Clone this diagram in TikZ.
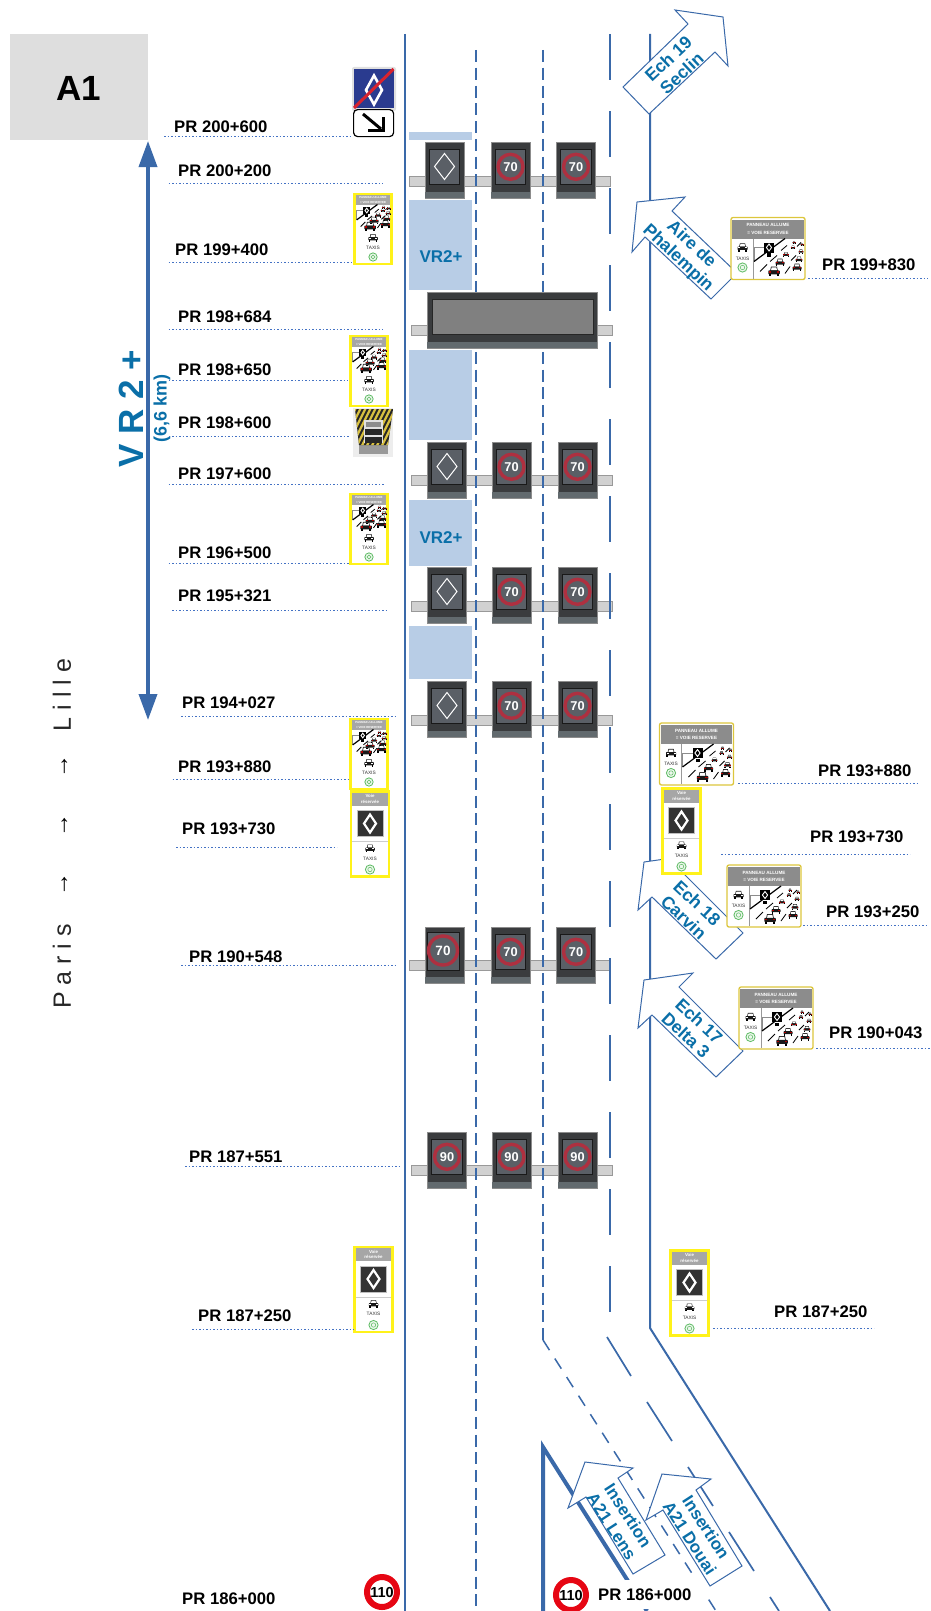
\documentclass[tikz,border=0pt]{standalone}
\usepackage{fontspec}
\setmainfont{Liberation Sans}
\usetikzlibrary{arrows.meta}
\definecolor{roadblue}{HTML}{3A69A9}
\definecolor{textblue}{HTML}{0A6FA8}
\definecolor{laneblue}{HTML}{B8CDE6}
\definecolor{leaderblue}{HTML}{4472C4}
\definecolor{paneldark}{HTML}{3A3C3E}
\definecolor{panelscreen}{HTML}{5A5F66}
\definecolor{panelstripe}{HTML}{626A6E}
\definecolor{ringred}{HTML}{AE3040}
\definecolor{signyellow}{HTML}{FFF21A}
\definecolor{signgold}{HTML}{DCC63C}
\definecolor{headgrey}{HTML}{8C8C8C}
\definecolor{headlight}{HTML}{A6A6A6}
\definecolor{ecogreen}{HTML}{5DBB63}
\definecolor{endblue}{HTML}{2A3B8F}
\definecolor{endred}{HTML}{D8232F}
\definecolor{hazard}{HTML}{D8C040}
\newcommand\fsz[2]{\fontsize{#1}{#2}\selectfont}
\newcommand\panelbase{%
  \draw[draw=black!45,fill=paneldark,line width=.7pt] (0,0) rectangle (39,56);
  \fill[panelstripe] (0.4,50) rectangle (38.6,55.6);}
\newcommand\PRmark[7]{%
  \node[prlabel] (#1) at (#2,#3) {#4};
  \coordinate (#1a) at (#5,#7);
  \coordinate (#1b) at (#6,#7);
  \draw[leader] (#1a) -- (#1b);}
\newcommand\gantrybar[3]{%
  \node[barbox,minimum width=201pt,minimum height=10pt,anchor=north west] (#1) at (#2,#3) {};}
\tikzset{
  roadline/.style={draw=roadblue,line width=2.2pt},
  lanedash/.style={draw=roadblue,line width=2pt,dash pattern=on 12pt off 5.75pt},
  longdash/.style={draw=roadblue,line width=2pt,dash pattern=on 46pt off 31pt},
  leader/.style={draw=leaderblue,line width=.9pt,dash pattern=on 1.6pt off 1.9pt},
  prlabel/.style={anchor=west,inner sep=0pt,text=black,font=\fsz{16.7}{19}\bfseries},
  barbox/.style={draw=black!40,fill=black!18,line width=1.3pt,inner sep=0pt},
  lanezone/.style={fill=laneblue},
  arrowbox/.style={draw=roadblue,fill=white,line width=1pt,line join=miter},
  arrowtext/.style={text=textblue,align=center,inner sep=0pt,font=\fsz{17.6}{19.5}\bfseries},
  zonetext/.style={text=textblue,inner sep=0pt,font=\fsz{17}{19}\bfseries},
  tiny/.style={inner sep=0pt,text=white,font=\fsz{#1}{#1}\bfseries},
  taxitext/.style={inner sep=0pt,text=black!80,font=\fsz{4.8}{5}},
  limit/.style={circle,draw={rgb:red,227;green,6;blue,19},fill=white,line width=6pt,minimum size=30pt,inner sep=0pt,text=black,font=\fsz{14.5}{15}\bfseries},
  pics/speed/.style={code={
    \panelbase
    \draw[draw=black!90,fill=panelscreen,line width=.9pt] (4,7) rectangle (34.5,42);
    \draw[ringred,line width=3.4pt] (19.5,24.8) circle (12.5pt);
    \node[tiny=12.8] (val) at (19.5,24.8) {#1};}},
  pics/speedbig/.style={code={
    \panelbase
    \draw[draw=black!90,fill=panelscreen,line width=.9pt] (2,5) rectangle (34,43);
    \draw[ringred,line width=3.4pt] (18,23.5) circle (14.5pt);
    \node[tiny=13.5] (val) at (18,23.5) {#1};}},
  pics/lozenge/.style={code={
    \panelbase
    \draw[draw=black!90,fill=panelscreen,line width=.9pt] (4,7) rectangle (34.5,42);
    \draw[white,line width=1pt] (19.5,11.5)--(29.5,24.5)--(19.5,37.5)--(9.5,24.5)--cycle;}},
  pics/car/.style={code={
    \fill[black!90] (-3.5,0)--(-2.6,-4.2)--(2.6,-4.2)--(3.5,0)--cycle;
    \fill[white] (-2.6,-.9)--(-2.1,-3.5)--(2.1,-3.5)--(2.6,-.9)--cycle;
    \fill[black!90,rounded corners=.6pt] (-5,-.9) rectangle (5,2.4);
    \fill[#1] (-4.5,-.3) rectangle (-2.5,.9);
    \fill[#1] (2.5,-.3) rectangle (4.5,.9);
    \fill[black] (-4.6,2.2) rectangle (-2.8,4);
    \fill[black] (2.8,2.2) rectangle (4.6,4);}},
  pics/roadpic/.style={code={
    \draw[black!45,line width=.5pt] (1,23)--(1,9)--(11,9);
    \draw[black,line width=1.2pt] (1,23)--(32,0);
    \foreach \ax/\ay/\bx/\by in {7/33/14/26,32/35/37/28,17/23/24/17,38/22/43/17,28/12/34/7,44/8/48/4}
      \draw[black,line width=.8pt] (\ax,\ay)--(\bx,\by);
    \fill[black] (11,4) rectangle (21,14);
    \draw[white,line width=.9pt] (16,5.5)--(18.6,9)--(16,12.5)--(13.4,9)--cycle;
    \fill[black] (14,14.5) rectangle (18,18);
    \pic[scale=1.15] at (21,33) {car={red!70!black}};
    \pic[scale=.9] at (44,29) {car={red!70!black}};
    \pic[scale=.9] at (27,24) {car={red!70!black}};
    \pic[scale=.68] at (46,21) {car={red!70!black}};
    \pic[scale=.58] at (33,16) {car={red!70!black}};
    \pic[scale=.5] at (48,13) {car={red!70!black}};
    \pic[scale=.42] at (40,9) {car={red!70!black}};
    \pic[scale=.32] at (49,6) {car={red!70!black}};
    \pic[scale=.32] at (41,4) {car={red!70!black}};}},
  pics/ecodisc/.style={code={
    \draw[ecogreen,fill=ecogreen!12,line width=.8pt] (0,0) circle (4.6pt);
    \draw[ecogreen,line width=.5pt] (0,0) circle (2.2pt);}},
  pics/tallpanel/.style={code={
    \draw[signyellow,fill=white,line width=2.4pt] (0,0) rectangle (37,70);
    \fill[headlight] (1.2,1.2) rectangle (35.8,10.5);
    \node[tiny=2.9] (ha) at (18.5,4) {PANNEAU ALLUME};
    \node[tiny=2.9] (hb) at (18.5,8) {= VOIE RESERVEE};
    \pic[scale=.67] at (1.5,10.5) {roadpic};
    \pic[scale=.95] at (18.5,44) {car=white};
    \node[taxitext] (tx) at (18.5,53.5) {TAXIS};
    \pic[scale=.9] at (18.5,63) {ecodisc};}},
  pics/widepanel/.style={code={
    \draw[signgold,fill=white,line width=1.3pt,rounded corners=2pt] (0,0) rectangle (74,62);
    \fill[headgrey] (1.2,2.4) rectangle (72.8,21);
    \node[tiny=4.6] (ha) at (37,7.5) {PANNEAU ALLUME};
    \node[tiny=4.6] (hb) at (37,15) {= VOIE RESERVEE};
    \draw[black!40,line width=.6pt] (22,21)--(22,61);
    \pic at (11.5,30) {car=white};
    \node[taxitext] (tx) at (11.5,41) {TAXIS};
    \pic at (11.5,50) {ecodisc};
    \pic at (22,21) {roadpic};}},
  pics/reserved/.style={code={
    \draw[signyellow,fill=white,line width=2.2pt] (0,0) rectangle (38,85);
    \fill[headlight] (1.2,1.2) rectangle (36.8,14);
    \node[tiny=4.4] (ha) at (19,4.8) {Voie};
    \node[tiny=4.4] (hb) at (19,10.2) {réservée};
    \draw[black!25,fill=black!80,line width=1pt] (6,19) rectangle (32,45);
    \draw[white,line width=2.2pt] (19,23)--(25,32)--(19,41)--(13,32)--cycle;
    \draw[black!20,line width=.6pt] (1.2,50)--(36.8,50);
    \pic[scale=.95] at (19,57) {car=white};
    \node[taxitext] (tx) at (19,67) {TAXIS};
    \pic at (19,78) {ecodisc};}},
}
\begin{document}
\begin{tikzpicture}[x=1pt,y=-1pt]
\useasboundingbox (0,0) rectangle (931,1611);
% title
\fill[black!13] (10,34) rectangle (148,140);
\node[inner sep=0pt,text=black,font=\fsz{35}{36}\bfseries] (title) at (79,88.5) {A1};
% reserved lane zones
\fill[lanezone] (409,132) rectangle (472,140);
\fill[lanezone] (409,200) rectangle (472,290);
\fill[lanezone] (409,350) rectangle (472,440);
\fill[lanezone] (409,500) rectangle (472,566);
\fill[lanezone] (409,626) rectangle (472,679);
\node[zonetext] (vra) at (441,257) {VR2+};
\node[zonetext] (vrb) at (441,538) {VR2+};
% gantry beams
\gantrybar{ba}{409}{176}
\gantrybar{bb}{411}{325}
\gantrybar{bc}{411}{475}
\gantrybar{bd}{411}{601}
\gantrybar{be}{411}{715}
\gantrybar{bf}{409}{960}
\gantrybar{bg}{411}{1165}
% road markings
\coordinate (mt) at (405,34); \coordinate (mb) at (405,1611);
\draw[roadline] (mt) -- (mb);
\coordinate (lat) at (476,50); \coordinate (lab) at (476,1611);
\draw[lanedash] (lat) -- (lab);
\coordinate (lbt) at (543,50); \coordinate (lbm) at (543,1340); \coordinate (lbb) at (716,1611);
\draw[lanedash] (lbt) -- (lbm);
\draw[draw=roadblue,line width=1.5pt,dash pattern=on 12pt off 10pt] (lbm) -- (lbb);
\coordinate (lct) at (610,34); \coordinate (lcm) at (610,1312);
\draw[longdash] (lct) -- (lcm);
\foreach \ax/\ay/\bx/\by in {607/1337/631/1376,647/1402/672/1441,688/1467/713/1506,729/1532/754/1571,770/1597/779/1611}
  \draw[draw=roadblue,line width=1.7pt] (\ax,\ay) -- (\bx,\by);
\coordinate (rt) at (650,34); \coordinate (rm) at (650,1328); \coordinate (rb) at (830,1611);
\draw[draw=roadblue,line width=2pt] (rt) -- (rm) -- (rb);
\coordinate (ta) at (543,1611); \coordinate (tb) at (543,1447); \coordinate (tc) at (647,1611);
\draw[draw=roadblue,line width=4pt,line join=miter] (ta) -- (tb) -- (tc);
\fill[white] (593,1580) rectangle (708,1609);
% panels on gantries
\pic (a1) at (425,142) {lozenge};
\pic (a2) at (491,142) {speed=70};
\pic (a3) at (556.5,142) {speed=70};
\node[draw=black!45,fill=paneldark,line width=.7pt,minimum width=170pt,minimum height=56pt,anchor=north west,inner sep=0pt] (vms) at (427,292) {};
\fill[panelstripe] (427.4,342) rectangle (596.6,347.6);
\draw[draw=black!85,fill=black!50,line width=.8pt] (432,299) rectangle (593,334);
\pic (c1) at (427.5,442) {lozenge};
\pic (c2) at (492,442) {speed=70};
\pic (c3) at (558,442) {speed=70};
\pic (d1) at (427.5,567) {lozenge};
\pic (d2) at (492,567) {speed=70};
\pic (d3) at (558,567) {speed=70};
\pic (e1) at (427.5,681) {lozenge};
\pic (e2) at (492,681) {speed=70};
\pic (e3) at (558,681) {speed=70};
\pic (f1) at (425,927) {speedbig=70};
\pic (f2) at (491,927) {speed=70};
\pic (f3) at (556.5,927) {speed=70};
\pic (g1) at (427.5,1132) {speed=90};
\pic (g2) at (492,1132) {speed=90};
\pic (g3) at (558,1132) {speed=90};
% VR2+ extent
\coordinate (vt) at (148,141); \coordinate (vb) at (148,720);
\draw[draw=roadblue,line width=3.6pt,{Triangle[length=26pt,width=18pt,fill=roadblue]}-{Triangle[length=26pt,width=18pt,fill=roadblue]}] (vt) -- (vb);
\node[rotate=90,inner sep=0pt,text=textblue,font=\fsz{35}{36}\bfseries] (vrbig) at (131,409) {V R 2 +};
\node[rotate=90,inner sep=0pt,text=textblue,font=\fsz{18}{19}\bfseries] (vrlen) at (162,408) {(6,6 km)};
% direction
\node[rotate=90,inner sep=0pt,text=black!85,font=\fsz{25}{26}] (lille) at (62,695) {L i l l e};
\node[rotate=90,inner sep=0pt,text=black,font=\fsz{24}{25}] (arra) at (65,766) {→};
\node[rotate=90,inner sep=0pt,text=black,font=\fsz{24}{25}] (arrb) at (65,825) {→};
\node[rotate=90,inner sep=0pt,text=black,font=\fsz{24}{25}] (arrc) at (65,884) {→};
\node[rotate=90,inner sep=0pt,text=black!85,font=\fsz{25}{26}] (paris) at (62,966.5) {P a r i s};
% block arrows
\draw[arrowbox] (623,87)--(649,114)--(715,52)--(728,66)--(723,17)--(675,10)--(688,24)--cycle;
\node[arrowtext,rotate=43] (ech19) at (675,66) {Ech 19\\Seclin};
\draw[arrowbox] (632,252)--(637,202)--(685,197)--(672,211)--(737,273)--(711,299)--(645,237)--cycle;
\node[arrowtext,rotate=-43] (aire) at (684.5,251.5) {Aire de\\Phalempin};
\draw[arrowbox] (644,862)--(693,855)--(679,869)--(743,933)--(716,959)--(652,897)--(638,910)--cycle;
\node[arrowtext,rotate=-43] (ech18) at (690.5,910) {Ech 18\\Carvin};
\draw[arrowbox] (644,980)--(693,973)--(679,987)--(743,1051)--(716,1077)--(652,1015)--(638,1028)--cycle;
\node[arrowtext,rotate=-43] (ech17) at (692.5,1028) {Ech 17\\Delta 3};
\draw[arrowbox] (568,1508)--(585,1462)--(633,1468)--(618,1478)--(665,1555)--(633,1574)--(586,1497)--cycle;
\node[arrowtext,rotate=-57,font=\fsz{17}{19.5}\bfseries] (lens) at (620,1521) {Insertion\\A21 Lens};
\draw[arrowbox] (646,1520)--(662,1474)--(711,1479)--(696,1490)--(742,1566)--(710,1586)--(663,1510)--cycle;
\node[arrowtext,rotate=-57,font=\fsz{17}{19.5}\bfseries] (douai) at (698,1532.5) {Insertion\\A21 Douai};
% end of lane sign
\fill[black!12,rounded corners=2pt] (352,67) rectangle (396,111);
\fill[endblue] (354,69) rectangle (393.5,108);
\draw[white,line width=2.6pt] (374,75.5)--(382,90)--(374,104.5)--(366,90)--cycle;
\draw[endred,line width=3pt] (354,108)--(393.5,69);
\node[draw=black,fill=white,line width=1.2pt,rounded corners=4pt,minimum width=40pt,minimum height=27pt,inner sep=0pt,anchor=north west] (arrowplate) at (353,109) {};
\draw[black,line width=3pt] (363,114)--(381,129);
\draw[black,line width=3pt] (368,130)--(383,130)--(383,117);
% radar
\fill[black!7] (353,408) rectangle (393,457);
\fill[black!40] (359,445) rectangle (388,454);
\begin{scope}
  \clip (355,409)--(393,409)--(388,445)--(359,445)--cycle;
  \fill[black!85] (350,405) rectangle (395,450);
  \foreach \k in {-2,...,12}
    \fill[hazard] ({345+\k*5},447)--({347.5+\k*5},447)--({367.5+\k*5},407)--({365+\k*5},407)--cycle;
\end{scope}
\fill[black!12] (364,420) rectangle (383,443);
\fill[black!45] (366,422) rectangle (381,427);
\fill[black!85] (365,429) rectangle (382,435);
\fill[black!85] (365,437) rectangle (382,442.5);
% roadside panels
\pic (t1) at (354.5,194) {tallpanel};
\pic (t2) at (350.5,336) {tallpanel};
\pic (t3) at (350.5,494) {tallpanel};
\pic (t4) at (350.5,719) {tallpanel};
\pic (r1) at (351,791.5) {reserved};
\pic (r2) at (662.5,788.5) {reserved};
\pic (r3) at (354.5,1247) {reserved};
\pic (r4) at (670.5,1250.5) {reserved};
\pic (w1) at (731,217.5) {widepanel};
\pic (w2) at (659.5,723) {widepanel};
\pic (w3) at (727,865) {widepanel};
\pic (w4) at (739,987) {widepanel};
% limits
\node[limit] (lima) at (382,1592) {110};
\node[limit] (limb) at (571,1595) {110};
% PR labels and leaders
\PRmark{pa}{174}{126.5}{PR 200+600}{164}{350}{136}
\PRmark{pb}{178}{171}{PR 200+200}{168.5}{383}{183}
\PRmark{pc}{175}{250}{PR 199+400}{168.5}{353}{262}
\PRmark{pd}{178}{316.5}{PR 198+684}{168.5}{383}{329}
\PRmark{pe}{178}{370}{PR 198+650}{168.5}{348}{380.5}
\PRmark{pf}{178}{423}{PR 198+600}{168.5}{350}{436}
\PRmark{pg}{178}{474}{PR 197+600}{168.5}{384}{484}
\PRmark{ph}{178}{553}{PR 196+500}{168.5}{350}{563}
\PRmark{pi}{178}{596}{PR 195+321}{172}{388}{610}
\PRmark{pj}{182}{703}{PR 194+027}{181}{395}{716}
\PRmark{pk}{178}{767}{PR 193+880}{172.5}{350}{779}
\PRmark{pl}{182}{829}{PR 193+730}{176}{337}{847}
\PRmark{pm}{189}{957}{PR 190+548}{181}{395}{965}
\PRmark{pn}{189}{1157}{PR 187+551}{185}{400}{1166}
\PRmark{po}{198}{1316}{PR 187+250}{192}{354}{1329}
\node[prlabel] (pp) at (182,1599) {PR 186+000};
\PRmark{qa}{822}{265}{PR 199+830}{808}{928}{278}
\PRmark{qb}{818}{771}{PR 193+880}{738}{917}{783}
\PRmark{qc}{810}{837}{PR 193+730}{721}{910}{854}
\PRmark{qd}{826}{912}{PR 193+250}{803}{926}{925}
\PRmark{qe}{829}{1033}{PR 190+043}{816}{931}{1048}
\PRmark{qf}{774}{1312}{PR 187+250}{713}{874}{1328}
\node[prlabel] (qg) at (598,1595) {PR 186+000};
\end{tikzpicture}
\end{document}
